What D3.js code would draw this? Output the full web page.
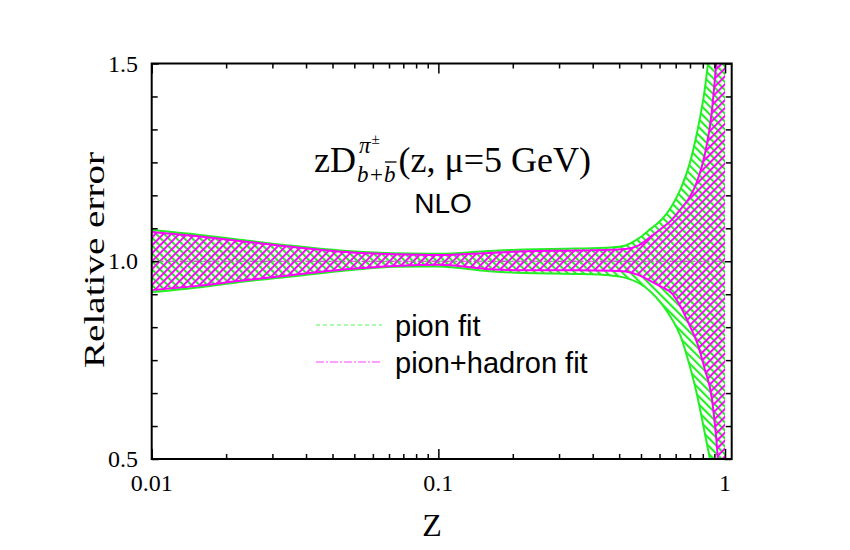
<!DOCTYPE html>
<html>
<head>
<meta charset="utf-8">
<script src="https://cdn.jsdelivr.net/npm/d3@7"></script>
<style>
  html, body { margin: 0; padding: 0; background: #fff; }
  svg { display: block; }
</style>
</head>
<body>
<svg id="chart" width="850" height="550"></svg>
<script>
// ---------------- data ----------------
const zValues = [0.01, 0.015, 0.02, 0.03, 0.05, 0.07, 0.1, 0.15, 0.2, 0.3, 0.4, 0.45, 0.5, 0.55, 0.6, 0.65, 0.7, 0.75, 0.8, 0.85, 0.9, 0.95, 1.0];
const pionUpper = [1.079, 1.066, 1.055, 1.040, 1.025, 1.020, 1.019, 1.026, 1.030, 1.032, 1.035, 1.040, 1.058, 1.082, 1.105, 1.138, 1.183, 1.243, 1.328, 1.435, 1.60, 1.85, 2.20];
const pionLower = [0.922, 0.935, 0.947, 0.961, 0.978, 0.986, 0.987, 0.975, 0.970, 0.968, 0.964, 0.958, 0.945, 0.923, 0.893, 0.856, 0.810, 0.740, 0.660, 0.565, 0.470, 0.340, 0.180];
const hadUpper = [1.074, 1.062, 1.052, 1.037, 1.022, 1.018, 1.016, 1.021, 1.025, 1.027, 1.029, 1.031, 1.040, 1.062, 1.083, 1.104, 1.132, 1.160, 1.203, 1.270, 1.380, 1.60, 2.00];
const hadLower = [0.927, 0.939, 0.950, 0.964, 0.981, 0.988, 0.991, 0.980, 0.977, 0.977, 0.976, 0.974, 0.965, 0.950, 0.935, 0.920, 0.885, 0.840, 0.793, 0.727, 0.652, 0.470, 0.100];
const centralValue = 1.0;
const xMajorTicks = [0.01, 0.1, 1];
const xTickLabels = ["0.01", "0.1", "1"];
const yMajorTicks = [0.5, 1.0, 1.5];
const yTickLabels = ["0.5", "1.0", "1.5"];
const legendLabels = ["pion fit", "pion+hadron fit"];

// ---------------- layout ----------------
const svg = d3.select("#chart");
const L = 151.7, R = 731.7, T = 63.5, B = 459;
const x = d3.scaleLog().domain([0.01, 1.055]).range([L, R]);
const y = d3.scaleLinear().domain([0.5, 1.5]).range([B, T]);

const GREEN = "#22f022";
const MAGENTA = "#ff00ff";
const serif = "'Liberation Serif', 'Times New Roman', serif";
const sans = "'Liberation Sans', Arial, sans-serif";

const defs = svg.append("defs");
defs.append("clipPath").attr("id", "plotclip")
  .append("rect").attr("x", L).attr("y", T).attr("width", R - L).attr("height", B - T);

const HS = 5.6;
const pg = defs.append("pattern").attr("id", "hatchGreen")
  .attr("patternUnits", "userSpaceOnUse").attr("width", HS).attr("height", HS)
  .attr("patternTransform", "rotate(-45)");
pg.append("line").attr("x1", 1).attr("y1", 0).attr("x2", 1).attr("y2", HS)
  .attr("stroke", GREEN).attr("stroke-width", 2.2);
const pm = defs.append("pattern").attr("id", "hatchMagenta")
  .attr("patternUnits", "userSpaceOnUse").attr("width", HS).attr("height", HS)
  .attr("patternTransform", "rotate(45)");
pm.append("line").attr("x1", 1).attr("y1", 0).attr("x2", 1).attr("y2", HS)
  .attr("stroke", MAGENTA).attr("stroke-width", 2);

const rows = zValues.map((z, i) => ({ z, pu: pionUpper[i], pl: pionLower[i], hu: hadUpper[i], hl: hadLower[i] }));

const plot = svg.append("g").attr("clip-path", "url(#plotclip)");
const curve = d3.curveMonotoneX;

plot.append("path").datum(rows)
  .attr("d", d3.area().curve(curve).x(d => x(d.z)).y0(d => y(d.pl)).y1(d => y(d.pu)))
  .attr("fill", "url(#hatchGreen)");
plot.append("path").datum(rows)
  .attr("d", d3.area().curve(curve).x(d => x(d.z)).y0(d => y(d.hl)).y1(d => y(d.hu)))
  .attr("fill", "url(#hatchMagenta)");

// central lines
plot.append("line").attr("x1", x(0.01)).attr("x2", x(1)).attr("y1", y(centralValue)).attr("y2", y(centralValue))
  .attr("stroke", GREEN).attr("stroke-width", 1).attr("stroke-dasharray", "4,3");
plot.append("line").attr("x1", x(0.01)).attr("x2", x(1)).attr("y1", y(centralValue)).attr("y2", y(centralValue))
  .attr("stroke", MAGENTA).attr("stroke-width", 1).attr("stroke-dasharray", "8,2,2,2").attr("opacity", 0.8);

// band edges
["pu", "pl"].forEach(k => plot.append("path").datum(rows)
  .attr("d", d3.line().curve(curve).x(d => x(d.z)).y(d => y(d[k])))
  .attr("fill", "none").attr("stroke", GREEN).attr("stroke-width", 2));
["hu", "hl"].forEach(k => plot.append("path").datum(rows)
  .attr("d", d3.line().curve(curve).x(d => x(d.z)).y(d => y(d[k])))
  .attr("fill", "none").attr("stroke", MAGENTA).attr("stroke-width", 2));

// ---------------- axes ----------------
const xMinor = [];
[0.01, 0.1].forEach(d => { for (let k = 1; k <= 10; k++) xMinor.push(d * (1 + 9 * k / 11)); });
const yMinor = d3.range(1, 12).map(k => 0.5 + k / 12).filter(v => Math.abs(v - 1) > 1e-6);

const axB = d3.axisBottom(x).tickValues(xMajorTicks).tickSize(-10).tickFormat("");
const axBm = d3.axisBottom(x).tickValues(xMinor).tickSize(-5).tickFormat("");
const axT = d3.axisTop(x).tickValues(xMajorTicks).tickSize(-10).tickFormat("");
const axTm = d3.axisTop(x).tickValues(xMinor).tickSize(-5).tickFormat("");
const axL = d3.axisLeft(y).tickValues(yMajorTicks).tickSize(-7).tickFormat("");
const axLm = d3.axisLeft(y).tickValues(yMinor).tickSize(-6).tickFormat("");
const axR = d3.axisRight(y).tickValues(yMajorTicks).tickSize(-7).tickFormat("");
const axRm = d3.axisRight(y).tickValues(yMinor).tickSize(-6).tickFormat("");

function styleAxis(g) {
  g.select(".domain").remove();
  g.selectAll(".tick line").attr("stroke", "#000").attr("stroke-width", 1.5);
}
svg.append("g").attr("transform", `translate(0,${B})`).call(axB).call(styleAxis);
svg.append("g").attr("transform", `translate(0,${B})`).call(axBm).call(styleAxis);
svg.append("g").attr("transform", `translate(0,${T})`).call(axT).call(styleAxis);
svg.append("g").attr("transform", `translate(0,${T})`).call(axTm).call(styleAxis);
svg.append("g").attr("transform", `translate(${L},0)`).call(axL).call(styleAxis);
svg.append("g").attr("transform", `translate(${L},0)`).call(axLm).call(styleAxis);
svg.append("g").attr("transform", `translate(${R},0)`).call(axR).call(styleAxis);
svg.append("g").attr("transform", `translate(${R},0)`).call(axRm).call(styleAxis);

svg.append("rect").attr("x", L).attr("y", T).attr("width", R - L).attr("height", B - T)
  .attr("fill", "none").attr("stroke", "#000").attr("stroke-width", 2);

// tick labels
xMajorTicks.forEach((v, i) => svg.append("text").attr("x", x(v)).attr("y", 491)
  .attr("text-anchor", "middle").attr("font-family", serif).attr("font-size", 24).text(xTickLabels[i]));
yMajorTicks.forEach((v, i) => svg.append("text").attr("x", 138).attr("y", y(v) + 8)
  .attr("text-anchor", "end").attr("font-family", serif).attr("font-size", 24).text(yTickLabels[i]));

// axis titles
svg.append("text").attr("transform", "translate(104,260) rotate(-90)")
  .attr("text-anchor", "middle").attr("font-family", serif).attr("font-size", 29)
  .attr("textLength", 216).attr("lengthAdjust", "spacingAndGlyphs").text("Relative error");
svg.append("text").attr("x", 432).attr("y", 536).attr("text-anchor", "middle")
  .attr("font-family", serif).attr("font-size", 32).text("Z");

// ---------------- title ----------------
const tb = 172;
const tx = 314;
const tg = svg.append("g");
const t1 = tg.append("text").attr("x", tx).attr("y", tb).attr("font-family", serif).attr("font-size", 36).text("zD");
const x1 = tx + t1.node().getComputedTextLength() + 1;
const sp = tg.append("text").attr("x", x1 + 2).attr("y", tb - 19).attr("font-family", serif)
  .attr("font-style", "italic").attr("font-size", 23).text("π");
const xpm = x1 + 2 + sp.node().getComputedTextLength() + 1;
tg.append("text").attr("x", xpm).attr("y", tb - 28).attr("font-family", serif).attr("font-size", 15).text("±");
const sb = tg.append("text").attr("x", x1).attr("y", tb + 10).attr("font-family", serif)
  .attr("font-style", "italic").attr("font-size", 23);
sb.append("tspan").text("b+");
const b2 = sb.append("tspan").text("b");
const subEnd = x1 + sb.node().getComputedTextLength();
const b2w = b2.node().getComputedTextLength();
tg.append("line").attr("x1", subEnd - b2w + 1).attr("x2", subEnd + 1)
  .attr("y1", tb - 10).attr("y2", tb - 10).attr("stroke", "#000").attr("stroke-width", 1.3);
tg.append("text").attr("x", subEnd + 3).attr("y", tb).attr("font-family", serif).attr("font-size", 36)
  .text("(z, μ=5 GeV)");

svg.append("text").attr("x", 443).attr("y", 213).attr("text-anchor", "middle")
  .attr("font-family", sans).attr("font-size", 28).text("NLO");

// ---------------- legend ----------------
const legY = [325, 362];
const legStyles = [{ c: GREEN, d: "4,3" }, { c: MAGENTA, d: "8,2,2,2" }];
legendLabels.forEach((lab, i) => {
  svg.append("line").attr("x1", 316).attr("x2", 382).attr("y1", legY[i]).attr("y2", legY[i])
    .attr("stroke", legStyles[i].c).attr("stroke-width", 1.2).attr("stroke-dasharray", legStyles[i].d)
    .attr("opacity", 0.75);
  svg.append("text").attr("x", 395).attr("y", legY[i] + 11).attr("font-family", sans)
    .attr("font-size", 29).text(lab);
});
</script>
</body>
</html>
